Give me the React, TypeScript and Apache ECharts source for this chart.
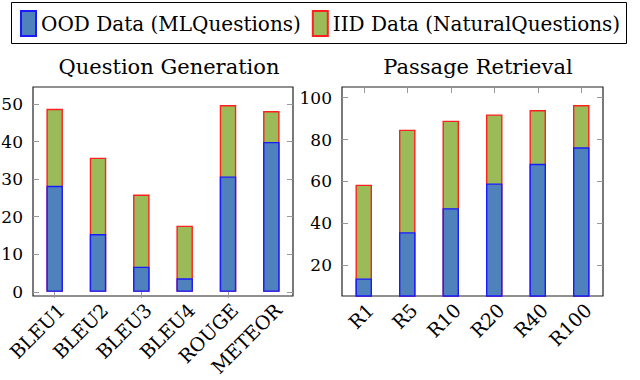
import React, { useEffect, useRef } from "react";
import * as echarts from "echarts";

const categoriesQG = ["BLEU1", "BLEU2", "BLEU3", "BLEU4", "ROUGE", "METEOR"];
const oodQG = [28.2, 15.4, 6.7, 3.6, 30.7, 39.9];
const iidQG = [48.7, 35.7, 25.9, 17.6, 49.7, 48.1];

const categoriesPR = ["R1", "R5", "R10", "R20", "R40", "R100"];
const oodPR = [13.6, 35.7, 47.2, 59.0, 68.4, 76.3];
const iidPR = [58.4, 84.7, 89.0, 92.0, 94.1, 96.5];

const qgTicks = [0, 10, 20, 30, 40, 50];
const prTicks = [20, 40, 60, 80, 100];

const OOD_NAME = "OOD Data (MLQuestions)";
const IID_NAME = "IID Data (NaturalQuestions)";

const FONT = "DejaVu Serif";

export default function App() {
  const ref = useRef<HTMLDivElement>(null);
  useEffect(() => {
    document.body.style.margin = "0";
    if (!ref.current) return;
    const chart = echarts.init(ref.current, null, { renderer: "svg" });

    const oodStyle = { color: "#4f81bd", borderColor: "#1a1aff", borderWidth: 1.4 };
    const iidStyle = { color: "#9bbb59", borderColor: "#ff2020", borderWidth: 1.4 };
    const tickStyle = { show: true, inside: true, length: 6, lineStyle: { color: "#999", width: 1 } };

    const xAxisBase = (grid: number, data: string[], pos: "bottom" | "top") => ({
      type: "category",
      gridIndex: grid,
      data,
      position: pos,
      axisLine: { show: false },
      axisTick: { ...tickStyle, alignWithLabel: true },
      axisLabel:
        pos === "bottom"
          ? {
              show: true,
              rotate: 45,
              fontFamily: FONT,
              fontSize: 19,
              color: "#000",
              margin: 4,
              interval: 0,
              verticalAlign: "top",
            }
          : { show: false },
      splitLine: { show: false },
    });

    const yAxisBase = (grid: number, min: number, max: number, ticks: number[], pos: "left" | "right") => ({
      type: "value",
      gridIndex: grid,
      min,
      max,
      position: pos,
      axisLine: { show: false },
      axisTick: { ...tickStyle, customValues: ticks },
      axisLabel:
        pos === "left"
          ? { show: true, customValues: ticks, fontFamily: FONT, fontSize: 17, color: "#000", margin: 10 }
          : { show: false },
      splitLine: { show: false },
    });

    const gridBase = {
      top: 87,
      height: 209,
      show: true,
      borderColor: "#222",
      borderWidth: 1.2,
      backgroundColor: "transparent",
      containLabel: false,
      outerBoundsMode: "none",
    };

    chart.setOption({
      animation: false,
      title: [
        {
          text: "Question Generation",
          left: 164,
          top: 51,
          textAlign: "center",
          textStyle: { fontFamily: FONT, fontSize: 21, fontWeight: "normal", color: "#000" },
        },
        {
          text: "Passage Retrieval",
          left: 473,
          top: 51,
          textAlign: "center",
          textStyle: { fontFamily: FONT, fontSize: 21, fontWeight: "normal", color: "#000" },
        },
      ],
      legend: {
        data: [OOD_NAME, IID_NAME],
        left: 20,
        top: 10,
        width: 615,
        padding: 0,
        icon: "rect",
        itemWidth: 15,
        itemHeight: 25,
        itemGap: 11,
        selectedMode: false,
        textStyle: { fontFamily: FONT, fontSize: 20, color: "#000" },
      },
      graphic: [
        {
          type: "rect",
          shape: { x: 11.5, y: 2.5, width: 615, height: 41 },
          style: { fill: "none", stroke: "#000", lineWidth: 1 },
          silent: true,
        },
      ],
      grid: [
        { ...gridBase, left: 33, width: 260 },
        { ...gridBase, left: 342, width: 261 },
      ],
      xAxis: [
        xAxisBase(0, categoriesQG, "bottom"),
        xAxisBase(0, categoriesQG, "top"),
        xAxisBase(1, categoriesPR, "bottom"),
        xAxisBase(1, categoriesPR, "top"),
      ],
      yAxis: [
        yAxisBase(0, -1.1, 54.5, qgTicks, "left"),
        yAxisBase(0, -1.1, 54.5, qgTicks, "right"),
        yAxisBase(1, 5.2, 105.1, prTicks, "left"),
        yAxisBase(1, 5.2, 105.1, prTicks, "right"),
      ],
      series: [
        { type: "bar", name: IID_NAME, xAxisIndex: 0, yAxisIndex: 0, data: iidQG, barWidth: 16.5, barGap: "-100%", itemStyle: iidStyle, clip: true },
        { type: "bar", name: OOD_NAME, xAxisIndex: 0, yAxisIndex: 0, data: oodQG, barWidth: 16.5, barGap: "-100%", itemStyle: oodStyle, clip: true },
        { type: "bar", name: IID_NAME, xAxisIndex: 2, yAxisIndex: 2, data: iidPR, barWidth: 16.5, barGap: "-100%", itemStyle: iidStyle, clip: true },
        { type: "bar", name: OOD_NAME, xAxisIndex: 2, yAxisIndex: 2, data: oodPR, barWidth: 16.5, barGap: "-100%", itemStyle: oodStyle, clip: true },
      ],
    });

    return () => chart.dispose();
  }, []);

  return <div ref={ref} style={{ width: 640, height: 380 }} />;
}
